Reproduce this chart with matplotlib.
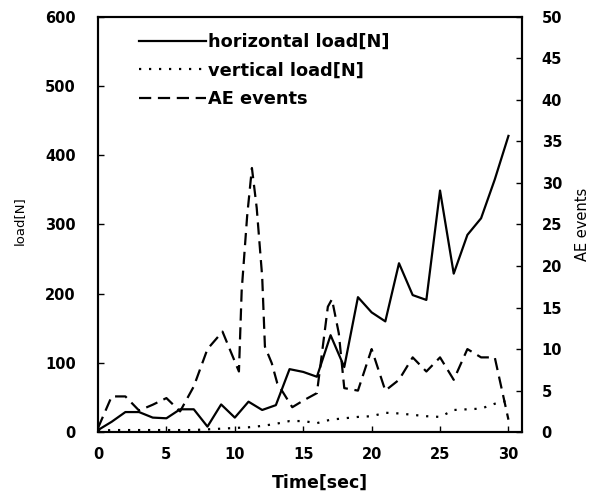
import matplotlib.pyplot as plt

# data
time = list(range(31))
horizontal_load = [3, 15, 29, 29, 21, 20, 33, 33, 8, 40, 21, 44, 32, 39, 91, 87, 80,
                   140, 94, 195, 173, 160, 244, 198, 191, 349, 229, 285, 309, 365, 428]
vertical_load = [2, 3, 3, 3, 3, 3, 3, 3, 4, 5, 6, 7, 9, 12, 16, 16, 13,
                 18, 20, 22, 23, 28, 27, 25, 23, 22, 32, 33, 34, 41, 46]

ae_time = [0, 1, 2, 3, 4, 5, 6, 7, 8, 9.1, 10.3, 10.5, 10.9, 11.25, 11.6, 12.0,
           12.2, 12.7, 13.1, 14.2, 15, 16, 16.8, 17.1, 17.6, 18, 19, 20, 21, 22,
           23, 24, 25, 26, 27, 28, 29, 30]
ae_events = [0.5, 4.3, 4.3, 2.6, 3.3, 4.1, 2.5, 5.5, 10, 12.1, 7.3, 17, 26, 31.8,
             27, 18.7, 10.3, 8.3, 5.9, 3.0, 3.8, 4.7, 15.1, 16, 11.9, 5.3, 5, 10,
             5, 6.3, 9, 7.3, 9, 6.3, 10, 9, 9, 1.5]

fig = plt.figure(figsize=(5.94, 4.95), dpi=100)
ax = fig.add_axes([0.165, 0.127, 0.714, 0.839])
ax2 = ax.twinx()

l1, = ax.plot(time, horizontal_load, color="black", lw=1.6, label="horizontal load[N]")
l2, = ax.plot(time, vertical_load, color="black", lw=1.6, linestyle=(0, (1, 3.5)),
              label="vertical load[N]")
l3, = ax2.plot(ae_time, ae_events, color="black", lw=1.6, linestyle=(0, (5.5, 3)),
               label="AE events")

ax.set_xlim(0, 31)
ax.set_ylim(0, 600)
ax2.set_ylim(0, 50)
ax.set_xticks(range(0, 31, 5))
ax.set_yticks(range(0, 601, 100))
ax2.set_yticks(range(0, 51, 5))

for a in (ax, ax2):
    a.tick_params(direction="in", length=4, width=1, labelsize=10.5)
    for lab in a.get_xticklabels() + a.get_yticklabels():
        lab.set_fontweight("bold")
    for sp in a.spines.values():
        sp.set_linewidth(1.5)
ax.tick_params(axis="x", pad=11)
ax.tick_params(axis="y", pad=16)
ax2.tick_params(axis="y", pad=14)

ax.set_xlabel("Time[sec]", fontsize=12.5, fontweight="bold")
ax.xaxis.set_label_coords(0.524, -0.1)
ax.set_ylabel("load[N]", fontsize=9.5)
ax.yaxis.set_label_coords(-0.17, 0.51)
ax2.set_ylabel("AE events", fontsize=10.5)
ax2.yaxis.set_label_coords(1.125, 0.5)

ax.legend(handles=[l1, l2, l3], loc="upper left", bbox_to_anchor=(0.06, 1.0),
          frameon=False, handlelength=3.75, handletextpad=0.1, labelspacing=0.6,
          prop={"size": 12.8, "weight": "bold"})

fig.savefig("out.png", dpi=100)
